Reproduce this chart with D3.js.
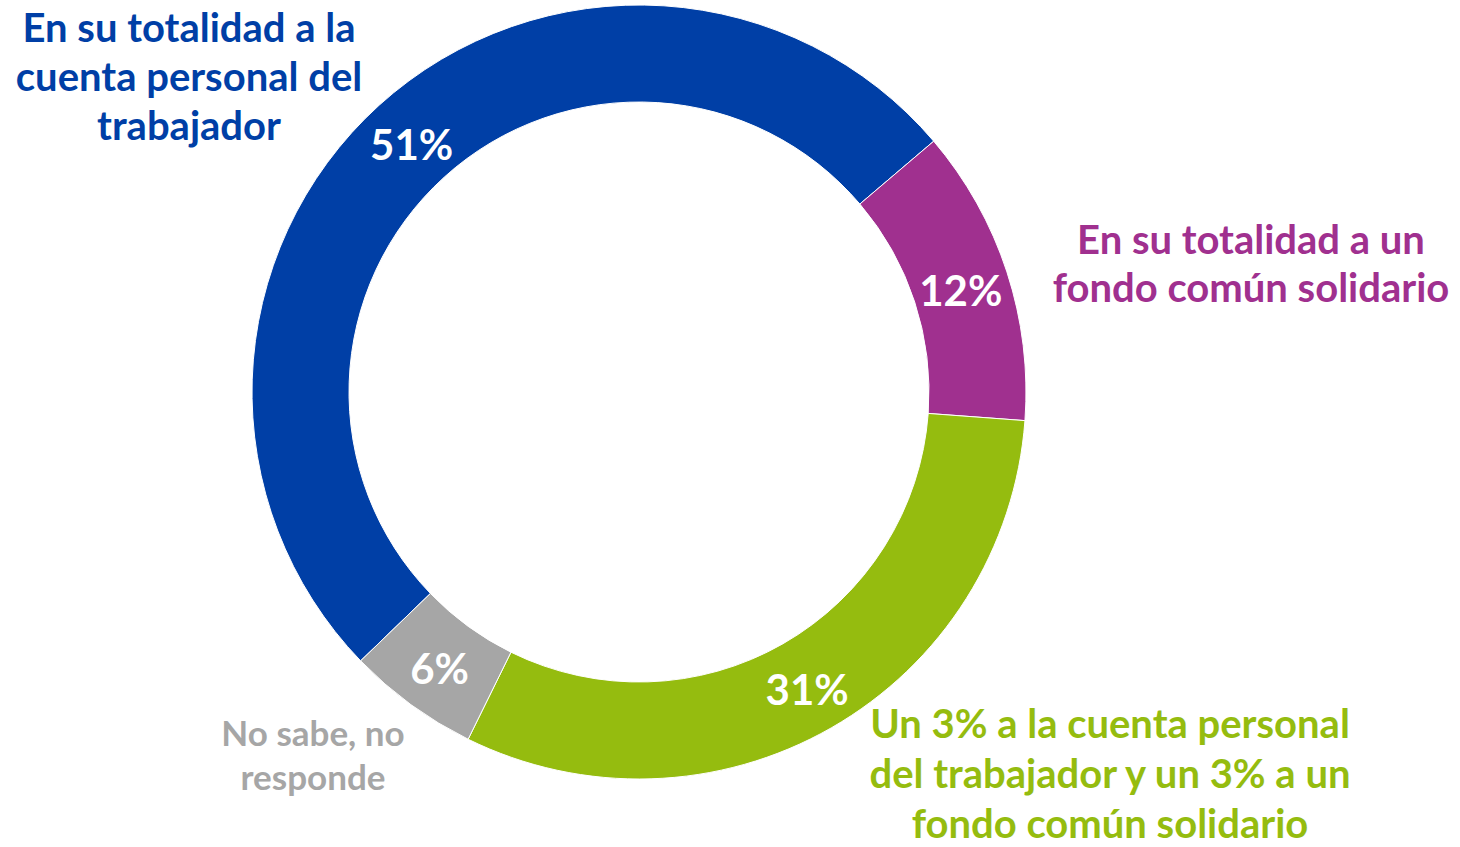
<!DOCTYPE html>
<html>
<head>
<meta charset="utf-8">
<script src="https://cdn.jsdelivr.net/npm/d3@7"></script>
<style>
  body { margin: 0; background: #fff; }
  text { font-family: Lato, "Open Sans", sans-serif; font-weight: bold; }
</style>
</head>
<body>
<div id="container"></div>
<script>
// chart data
var categories = [
  "En su totalidad a la cuenta personal del trabajador",
  "En su totalidad a un fondo común solidario",
  "Un 3% a la cuenta personal del trabajador y un 3% a un fondo común solidario",
  "No sabe, no responde"
];
// slice sizes (labels show rounded values)
var values = [51.0, 12.4, 31.1, 5.5];
var pctLabels = ["51%", "12%", "31%", "6%"];
// category labels broken into lines as in the picture
var labelLines = [
  ["En su totalidad a la", "cuenta personal del", "trabajador"],
  ["En su totalidad a un", "fondo común solidario"],
  ["Un 3% a la cuenta personal", "del trabajador y un 3% a un", "fondo común solidario"],
  ["No sabe, no", "responde"]
];
var colors = ["#003FA6", "#A0308F", "#95BC0F", "#A6A6A6"];

var width = 1460, height = 847;
var cx = 639, cy = 392;
var outerR = 387, innerR = 290;

var svg = d3.select("#container").append("svg")
    .attr("width", width)
    .attr("height", height);

var g = svg.append("g").attr("transform", "translate(" + cx + "," + cy + ")");

// first slice starts lower-left, going clockwise
var start = -134.0 * Math.PI / 180;
var pie = d3.pie().sort(null).value(function(d){ return d; })
    .startAngle(start).endAngle(start + 2 * Math.PI);
var arc = d3.arc().innerRadius(innerR).outerRadius(outerR);
var arcs = pie(values);

g.selectAll("path.slice")
  .data(arcs)
  .enter().append("path")
  .attr("class", "slice")
  .attr("d", arc)
  .attr("fill", function(d, i){ return colors[i]; })
  .attr("stroke", "#fff")
  .attr("stroke-width", 1);

// percentage labels at slice centroids
g.selectAll("text.pct")
  .data(arcs)
  .enter().append("text")
  .attr("class", "pct")
  .attr("x", function(d){ return arc.centroid(d)[0]; })
  .attr("y", function(d){ return arc.centroid(d)[1]; })
  .attr("dy", "0.45em")
  .attr("text-anchor", "middle")
  .attr("fill", "#fff")
  .style("font-size", "42px")
  .text(function(d, i){ return pctLabels[i]; });

// category labels outside the ring
var labelPos = [
  {x: 189, y: 42, size: 40, lh: 49},
  {x: 1251, y: 254, size: 40, lh: 48},
  {x: 1110, y: 738, size: 40, lh: 50},
  {x: 313, y: 746, size: 35, lh: 44}
];

labelLines.forEach(function(lines, i){
  var p = labelPos[i];
  var t = svg.append("text")
    .attr("class", "cat")
    .attr("text-anchor", "middle")
    .attr("fill", colors[i])
    .style("font-size", p.size + "px");
  lines.forEach(function(line, j){
    t.append("tspan")
      .attr("x", p.x)
      .attr("y", p.y + j * p.lh)
      .text(line);
  });
});
</script>
</body>
</html>
